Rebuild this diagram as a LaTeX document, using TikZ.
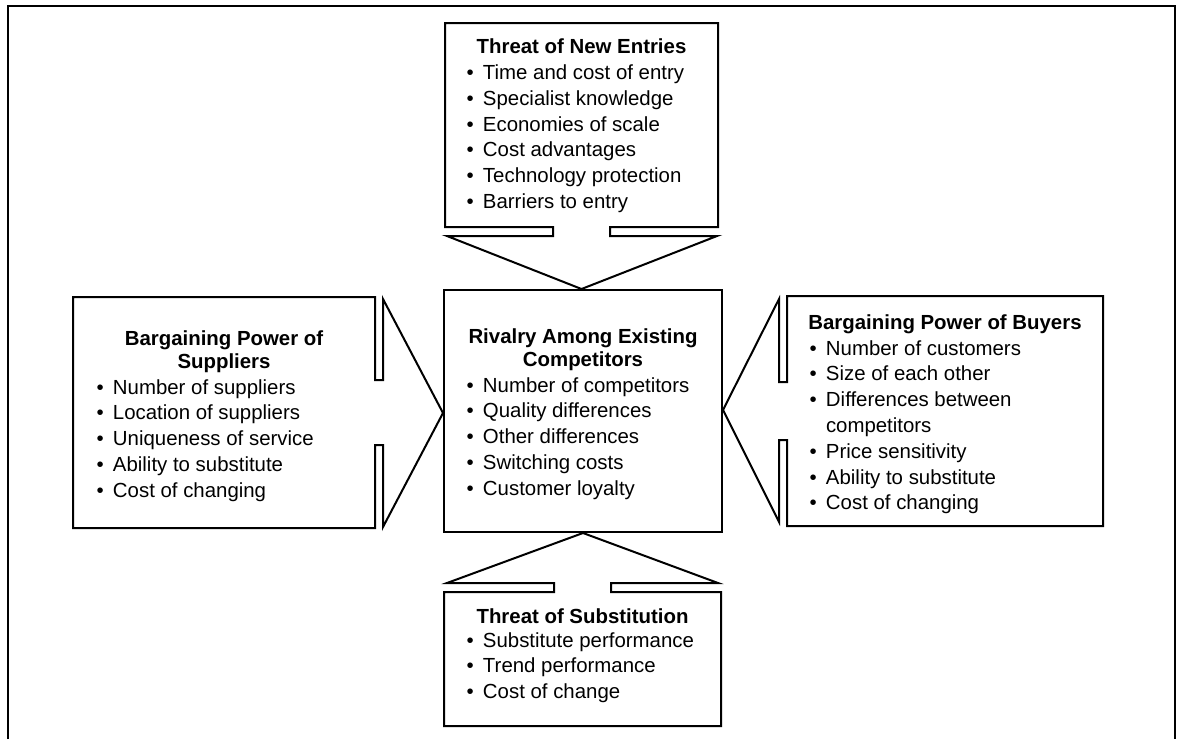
\documentclass[tikz,border=0pt]{standalone}
\usepackage{fontspec}
\setmainfont{Liberation Sans}
% bullet column width
\newlength\bw
\setlength\bw{16.5pt}
\newcommand\bitem[1]{\makebox[\bw][l]{\textbullet}#1\par}
\newcommand\bcont[1]{\hspace*{\bw}#1\par}
\newcommand\blist[1]{\parbox[t]{320pt}{\fontsize{20.4}{25.8}\selectfont\raggedright #1}}
\newcommand\btitle[2]{\parbox[t]{#1}{\fontsize{20.4}{23.5}\selectfont\bfseries\centering #2\par}}
\begin{document}
\begin{tikzpicture}[x=1pt,y=-1pt,line join=miter,
  outline/.style={draw=black,line width=2pt},
  frame/.style={draw=black,line width=2.4pt},
  txt/.style={inner sep=0pt,outer sep=0pt}]
\useasboundingbox (0,0) rectangle (1177,739);
% outer frame, open at the bottom
\draw[frame] (8,739) -- (8,6) -- (1175,6) -- (1175,739);

% threat of new entries: box with arrow pointing down
\draw[outline] (445,23) -- (718,23) -- (718,227) -- (610,227) -- (610,236)
  -- (717,236) -- (581.5,289) -- (447,236) -- (553,236) -- (553,227)
  -- (445,227) -- cycle;
% rivalry box in the middle
\draw[outline] (444,290) rectangle (722,532);
% threat of substitution: box with arrow pointing up
\draw[outline] (444,726) -- (721,726) -- (721,592) -- (611,592) -- (611,583)
  -- (718,583) -- (583,533) -- (447,583) -- (554,583) -- (554,592)
  -- (444,592) -- cycle;
% suppliers: box with arrow pointing right
\draw[outline] (73,297) -- (375,297) -- (375,380) -- (383,380) -- (383,299)
  -- (443,413) -- (383,527) -- (383,445) -- (375,445) -- (375,528)
  -- (73,528) -- cycle;
% buyers: box with arrow pointing left
\draw[outline] (1103,296) -- (787,296) -- (787,382) -- (779,382) -- (779,299)
  -- (723,410) -- (779,522) -- (779,440) -- (787,440) -- (787,526)
  -- (1103,526) -- cycle;

% texts
\node[txt,anchor=base] (entT) at (581.5,53) {\btitle{260pt}{Threat of New Entries}};
\node[txt,anchor=base west] (entL) at (466.5,79.5) {\blist{%
  \bitem{Time and cost of entry}
  \bitem{Specialist knowledge}
  \bitem{Economies of scale}
  \bitem{Cost advantages}
  \bitem{Technology protection}
  \bitem{Barriers to entry}}};

\node[txt,anchor=base] (supT) at (224,345) {\btitle{290pt}{Bargaining Power of\\Suppliers}};
\node[txt,anchor=base west] (supL) at (96.5,394) {\blist{%
  \bitem{Number of suppliers}
  \bitem{Location of suppliers}
  \bitem{Uniqueness of service}
  \bitem{Ability to substitute}
  \bitem{Cost of changing}}};

\node[txt,anchor=base] (rivT) at (583,343) {\btitle{270pt}{Rivalry Among Existing\\Competitors}};
\node[txt,anchor=base west] (rivL) at (466.5,392) {\blist{%
  \bitem{Number of competitors}
  \bitem{Quality differences}
  \bitem{Other differences}
  \bitem{Switching costs}
  \bitem{Customer loyalty}}};

\node[txt,anchor=base] (buyT) at (945,329) {\btitle{310pt}{Bargaining Power of Buyers}};
\node[txt,anchor=base west] (buyL) at (809.5,355) {\blist{%
  \bitem{Number of customers}
  \bitem{Size of each other}
  \bitem{Differences between}
  \bcont{competitors}
  \bitem{Price sensitivity}
  \bitem{Ability to substitute}
  \bitem{Cost of changing}}};

\node[txt,anchor=base] (subT) at (582.5,623) {\btitle{270pt}{Threat of Substitution}};
\node[txt,anchor=base west] (subL) at (466.5,647) {\blist{%
  \bitem{Substitute performance}
  \bitem{Trend performance}
  \bitem{Cost of change}}};
\end{tikzpicture}
\end{document}
